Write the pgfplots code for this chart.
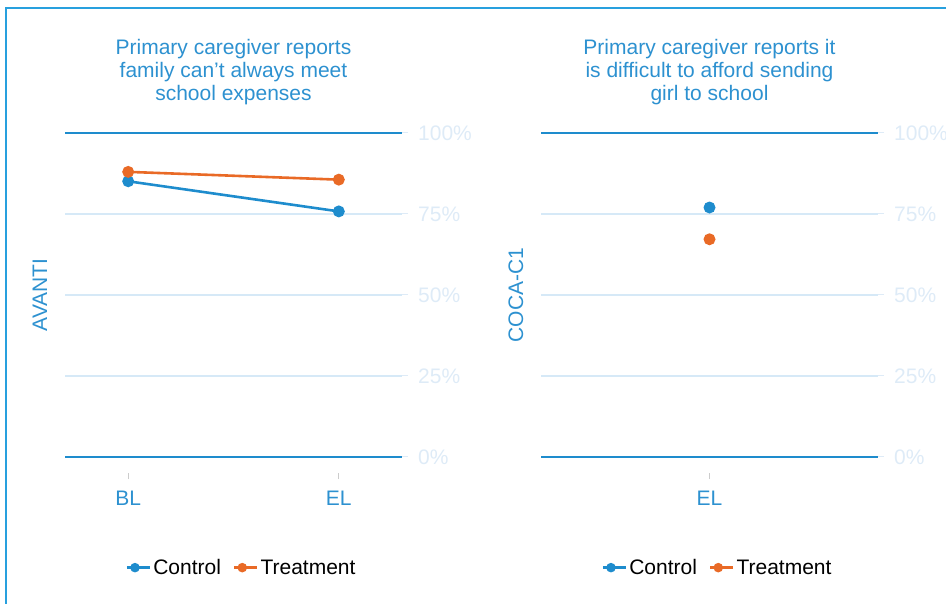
\documentclass[border=0pt]{standalone}
\usepackage{pgfplots}
\pgfplotsset{compat=1.18}
\usepackage{fontspec}
\setmainfont{Liberation Sans}[Ligatures=Common]

\definecolor{cblue}{RGB}{30,140,205}
\definecolor{corange}{RGB}{233,106,38}
\definecolor{gridblue}{RGB}{214,233,247}
\definecolor{ticklab}{RGB}{222,235,247}
\definecolor{txtblue}{RGB}{45,145,208}
\definecolor{frameblue}{RGB}{40,160,222}

\newcommand{\bigfont}{\fontsize{21}{23}\selectfont}

\pgfplotsset{
  panel/.style={
    scale only axis,
    width=337pt, height=356.4pt,
    ymin=-5, ymax=105,
    axis line style={draw=none},
    /pgf/number format/assume math mode=true,
    ytick={25,50,75},
    extra y ticks={0,100},
    extra y tick style={grid style={cblue, line width=2.4pt}},
    ymajorgrids,
    grid style={gridblue, line width=1.2pt},
    yticklabel={\pgfmathprintnumber{\tick}\%},
    yticklabel pos=right,
    ytick pos=right,
    xtick pos=bottom,
    tick align=outside,
    major tick length=6pt,
    y tick style={ticklab, line width=1pt},
    x tick style={black!20, line width=1pt},
    yticklabel style={text=ticklab, font=\bigfont, anchor=west, inner sep=0pt, xshift=10pt},
    xticklabel style={text=txtblue, font=\bigfont, anchor=north, inner sep=0pt, yshift=-12pt},
    ylabel style={at={(axis description cs:0,0.5)}, anchor=center, yshift=25pt,
      text=txtblue, font=\bigfont},
    title style={at={(axis description cs:0.5,1)}, anchor=north, yshift=72pt, inner sep=0pt,
      align=center, text=txtblue, font=\bigfont},
    legend style={at={(axis description cs:0.524,-0.265)}, anchor=center, draw=none, fill=none,
      font=\bigfont, legend columns=2,
      /tikz/every even column/.append style={column sep=10pt}},
    legend image code/.code={
      \draw[#1, line width=2.2pt] (0pt,0pt) -- (16pt,0pt);
      \fill[#1] (8pt,0pt) circle (3.4pt);
      \path (0pt,0pt) -- (23pt,0pt);},
    every axis plot/.append style={line width=2.6pt, mark=*, mark size=4.6pt},
  },
}

\begin{document}
\begin{tikzpicture}
\useasboundingbox (0pt,0pt) rectangle (946pt,604pt);
\draw[frameblue, line width=2pt] (5.5pt,-5pt) -- (5.5pt,596pt) -- (952pt,596pt);

\begin{axis}[panel,
  at={(65pt,130.8pt)}, anchor=south west,
  xmin=-0.3, xmax=1.3,
  xtick={0,1}, xticklabels={BL,EL},
  ylabel={AVANTI},
  title={Primary caregiver reports\\family can't always meet\\school expenses},
]
\addplot[cblue, mark options={fill=cblue}] coordinates {(0,85.1) (1,75.8)};
\addplot[corange, mark options={fill=corange}] coordinates {(0,88.0) (1,85.6)};
\legend{Control, Treatment}
\end{axis}

\begin{axis}[panel,
  at={(541pt,130.8pt)}, anchor=south west,
  xmin=-0.8, xmax=0.8,
  xtick={0}, xticklabels={EL},
  ylabel={COCA-C1},
  title={Primary caregiver reports it\\is difficult to afford sending\\girl to school},
]
\addplot[cblue, mark options={fill=cblue}] coordinates {(0,77.0)};
\addplot[corange, mark options={fill=corange}] coordinates {(0,67.2)};
\legend{Control, Treatment}
\end{axis}
\end{tikzpicture}
\end{document}
